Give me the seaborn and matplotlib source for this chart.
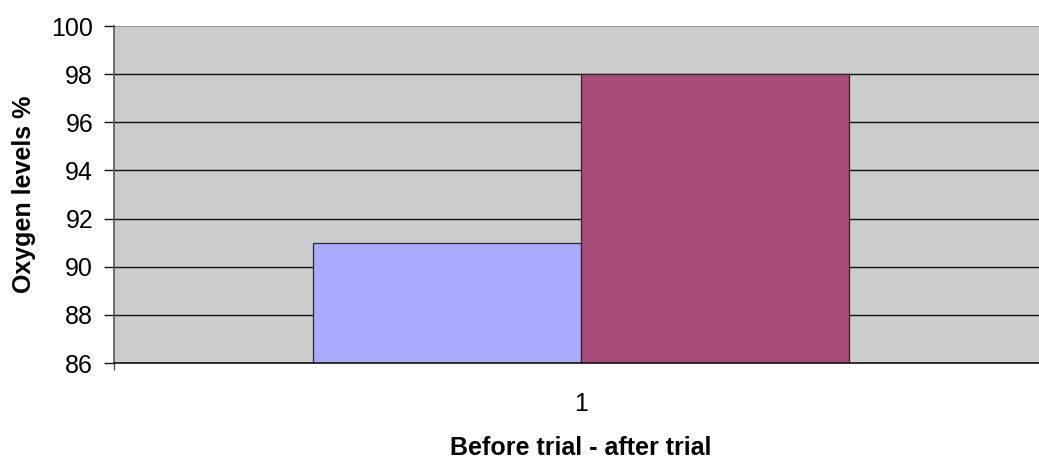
import pandas as pd
import seaborn as sns
import matplotlib.pyplot as plt
from matplotlib.ticker import FixedLocator

# data
category = ['1', '1']
series = ['Before trial', 'After trial']
oxygen = [91, 98]
yticks = [86, 88, 90, 92, 94, 96, 98, 100]

df = pd.DataFrame({'trial': category, 'series': series, 'oxygen': oxygen})

sns.set_theme(style='white')
plt.rcParams['font.family'] = ['Liberation Sans', 'DejaVu Sans']
plt.rcParams['text.color'] = 'black'
plt.rcParams['axes.labelcolor'] = 'black'
plt.rcParams['xtick.color'] = 'black'
plt.rcParams['ytick.color'] = 'black'

fig = plt.figure(figsize=(10.39, 4.58), dpi=100)
ax = fig.add_axes([0.1097, 0.2074, 0.899, 0.7358])
ax.set_facecolor('#CCCCCC')

sns.barplot(data=df, x='trial', y='oxygen', hue='series',
            palette=['#AAAAFF', '#A84A78'], saturation=1, width=0.574, gap=0,
            edgecolor='#2a2a2a', linewidth=0.9, legend=False, ax=ax)

ax.set_ylim(86, 100)
ax.set_xlim(-0.5, 0.5)
ax.set_yticks(yticks)
ax.set_yticklabels([str(t) for t in yticks], fontsize=18)
for t in yticks[1:-1]:
    ax.axhline(t, color='#111111', lw=1.0, zorder=0.5)
ax.axhline(100, color='#888888', lw=1.2, zorder=0.5)

for s in ['top', 'right']:
    ax.spines[s].set_visible(False)
ax.spines['left'].set_color('#555555')
ax.spines['left'].set_linewidth(1.2)
ax.spines['bottom'].set_color('#111111')
ax.spines['bottom'].set_linewidth(1.2)

ax.tick_params(axis='y', length=7, width=1, color='#111111', pad=8, left=True)
ax.tick_params(axis='x', which='major', length=0, pad=21, labelsize=18)
ax.xaxis.set_minor_locator(FixedLocator([-0.5, 0.5]))
ax.tick_params(axis='x', which='minor', length=5, width=1, color='#555555', bottom=True)

ax.set_xlabel('Before trial - after trial', fontsize=18, fontweight='bold', labelpad=14)
ax.set_ylabel('Oxygen levels %', fontsize=18, fontweight='bold', labelpad=11)

fig.savefig('out.png', dpi=100)
